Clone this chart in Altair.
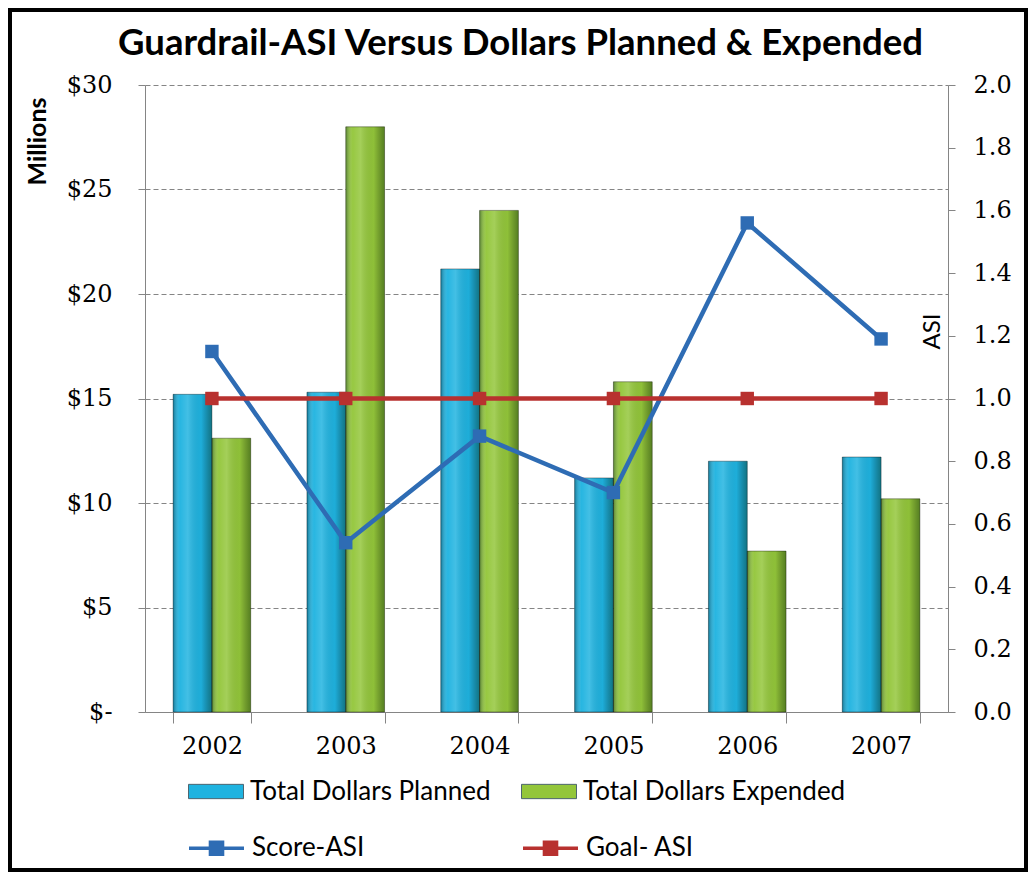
import altair as alt
import pandas as pd

# ---------------- data ----------------
years = ["2002", "2003", "2004", "2005", "2006", "2007"]
planned = [15.2, 15.3, 21.2, 11.2, 12.0, 12.2]
expended = [13.1, 28.0, 24.0, 15.8, 7.7, 10.2]
score_asi = [1.15, 0.54, 0.88, 0.70, 1.56, 1.19]
goal_asi = [1.0, 1.0, 1.0, 1.0, 1.0, 1.0]

bar_series = ["Total Dollars Planned", "Total Dollars Expended"]
line_series = ["Score-ASI", "Goal- ASI"]
bar_colors = ["#1FB3E0", "#93C63A"]
line_colors = ["#2E6CB4", "#B8312F"]

money_ticks = [0, 5, 10, 15, 20, 25, 30]
asi_ticks = [0.0, 0.2, 0.4, 0.6, 0.8, 1.0, 1.2, 1.4, 1.6, 1.8, 2.0]

bars_df = pd.DataFrame({
    "year": years + years,
    "series": [bar_series[0]] * len(years) + [bar_series[1]] * len(years),
    "value": planned + expended,
})
lines_df = pd.DataFrame({
    "year": years + years,
    "series": [line_series[0]] * len(years) + [line_series[1]] * len(years),
    "asi": score_asi + goal_asi,
})

# ---------------- layout ----------------
W, H = 803, 627
PAD = {"left": 137, "top": 77, "right": 80, "bottom": 160}
GRAY = "#858585"
LABEL_FONT = "DejaVu Serif"
LABEL_SIZE = 24

x_scale = alt.Scale(domain=years, paddingInner=0.42, paddingOuter=0.21)
bar_color_scale = alt.Scale(domain=bar_series, range=bar_colors)
line_color_scale = alt.Scale(domain=line_series, range=line_colors)
money_scale = alt.Scale(domain=[0, 30], nice=False, zero=True)
asi_scale = alt.Scale(domain=[0, 2], nice=False, zero=True)

x_axis = alt.Axis(title=None, labelFont=LABEL_FONT, labelFontSize=LABEL_SIZE,
                  labelColor="black", labelAngle=0, labelPadding=11,
                  tickBand="extent", tickSize=11, tickColor=GRAY,
                  domainColor=GRAY, grid=False)

left_axis = alt.Axis(
    orient="left", values=money_ticks,
    labelExpr="datum.value == 0 ? '$-\u00a0\u00a0' : '$' + datum.value",
    labelFont=LABEL_FONT, labelFontSize=LABEL_SIZE, labelColor="black",
    labelPadding=26, tickSize=7, tickColor=GRAY, domainColor=GRAY,
    grid=True, gridColor=GRAY, gridDash=[5, 3], gridWidth=1,
    title="Millions", titleFont="Lato", titleFontSize=25,
    titleFontWeight="bold", titleColor="black", titleAngle=270,
    titleAlign="right", titleBaseline="middle", titleX=-108, titleY=12,
)

right_axis = alt.Axis(
    orient="right", values=asi_ticks, format=".1f",
    labelFont=LABEL_FONT, labelFontSize=LABEL_SIZE, labelColor="black",
    labelPadding=18, tickSize=7, tickColor=GRAY, domainColor=GRAY,
    grid=False,
    title="ASI", titleFont="Lato", titleFontSize=24, titleFontWeight="normal",
    titleColor="black", titleAngle=270, titleAlign="center",
    titleBaseline="middle", titleX=-16, titleY=246,
)

BAR_PATH = "M-1,-0.26L1,-0.26L1,0.26L-1,0.26Z"
# line with a solid-looking square made of nested outlines (stroke only)
LINE_PATH = ("M-1,0L1,0"
             "M-0.22,-0.22L0.22,-0.22L0.22,0.22L-0.22,0.22Z"
             "M-0.15,-0.15L0.15,-0.15L0.15,0.15L-0.15,0.15Z"
             "M-0.08,-0.08L0.08,-0.08L0.08,0.08L-0.08,0.08Z"
             "M-0.02,-0.02L0.02,-0.02L0.02,0.02L-0.02,0.02Z")

bar_legend = alt.Legend(
    title=None, orient="none", legendX=43, legendY=678.5,
    direction="horizontal", columns=2, columnPadding=28, rowPadding=0,
    padding=0, symbolSize=3025, symbolType=BAR_PATH,
    symbolStrokeColor="#4d6670", symbolStrokeWidth=1, symbolOpacity=1,
    labelFont="Lato", labelFontSize=26, labelColor="black",
    labelOffset=6, labelLimit=500,
)

line_legend = alt.Legend(
    title=None, orient="none", legendX=42, legendY=733.5,
    direction="horizontal", columns=2, columnPadding=151, rowPadding=0,
    padding=0, symbolSize=3025, symbolType=LINE_PATH,
    symbolStrokeWidth=3.5, symbolFillColor="transparent", symbolOpacity=1,
    labelFont="Lato", labelFontSize=26, labelColor="black",
    labelOffset=6, labelLimit=500,
)

shade = alt.Gradient(
    gradient="linear", x1=0, x2=1, y1=0, y2=0,
    stops=[
        alt.GradientStop(offset=0.0, color="rgba(0,30,40,0.40)"),
        alt.GradientStop(offset=0.18, color="rgba(255,255,255,0.04)"),
        alt.GradientStop(offset=0.38, color="rgba(255,255,255,0.16)"),
        alt.GradientStop(offset=0.72, color="rgba(0,0,0,0.03)"),
        alt.GradientStop(offset=1.0, color="rgba(0,30,0,0.42)"),
    ],
)

xoff = alt.XOffset("series:N", scale=alt.Scale(domain=bar_series,
                                               paddingInner=0, paddingOuter=0))

bars = alt.Chart(bars_df).mark_bar().encode(
    x=alt.X("year:N", scale=x_scale, axis=x_axis, sort=years),
    xOffset=xoff,
    y=alt.Y("value:Q", scale=money_scale, axis=left_axis),
    color=alt.Color("series:N", scale=bar_color_scale, legend=bar_legend),
)

overlay = alt.Chart(bars_df).mark_bar(
    fill=shade, stroke="#000000", strokeOpacity=0.35, strokeWidth=1
).encode(
    x=alt.X("year:N", scale=x_scale, sort=years),
    xOffset=xoff,
    y=alt.Y("value:Q", scale=money_scale),
)

line_marks = alt.Chart(lines_df).mark_line(strokeWidth=4.5).encode(
    x=alt.X("year:N", scale=x_scale, sort=years),
    y=alt.Y("asi:Q", scale=asi_scale, axis=right_axis),
    stroke=alt.Stroke("series:N", scale=line_color_scale, legend=line_legend),
)

point_marks = alt.Chart(lines_df).mark_point(
    shape="square", size=180, filled=True, opacity=1
).encode(
    x=alt.X("year:N", scale=x_scale, sort=years),
    y=alt.Y("asi:Q", scale=asi_scale),
    fill=alt.Fill("series:N", scale=line_color_scale, legend=None),
)

frame = alt.Chart(pd.DataFrame({"f": [0]})).mark_rect(
    fill="white", fillOpacity=0, stroke="black", strokeWidth=8
).encode(
    x=alt.value(-PAD["left"]), x2=alt.value(W + PAD["right"]),
    y=alt.value(-PAD["top"]), y2=alt.value(H + PAD["bottom"]),
)

chart = alt.layer(
    alt.layer(bars, overlay), alt.layer(line_marks, point_marks), frame
).resolve_scale(
    y="independent"
).properties(
    width=W, height=H,
    autosize=alt.AutoSizeParams(type="none"),
    padding=PAD,
    background="white",
    title=alt.TitleParams(
        "Guardrail-ASI Versus Dollars Planned & Expended",
        font="Lato", fontSize=36.5, fontWeight="bold", color="black",
        anchor="middle", frame="group", baseline="alphabetic",
        offset=-87, dx=-26,
    ),
).configure_view(stroke="transparent")

chart.save("out.html", embed_options={"renderer": "svg", "actions": False})
